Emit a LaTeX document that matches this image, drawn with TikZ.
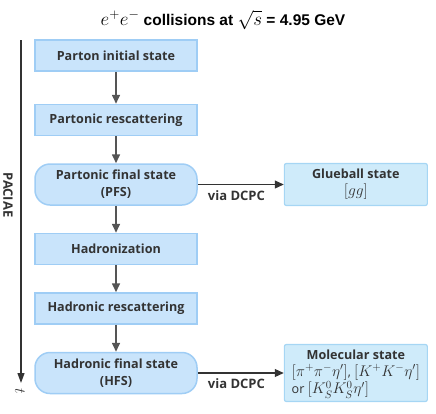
\RequirePackage{fix-cm}
\documentclass[tikz,border=0pt]{standalone}
\usepackage{amsmath,amssymb}
\usepackage{fontspec}
\setsansfont{Open Sans}
\newfontfamily\titlefont{Liberation Sans}
\usetikzlibrary{arrows.meta,positioning,calc}

\definecolor{boxfill}{HTML}{C9E4FB}
\definecolor{boxline}{HTML}{9FCDF5}
\definecolor{outfill}{HTML}{CFEBFA}
\definecolor{outline}{HTML}{A6D6F4}
\definecolor{txtgray}{HTML}{333333}
\definecolor{arrgray}{HTML}{555555}

% math set a little larger than the sans text around it
\newcommand{\bigmath}[2][15.5]{{\fontsize{#1}{18}\selectfont$#2$}}

\begin{document}
\begin{tikzpicture}[
    font=\sffamily\bfseries\fontsize{12.6}{17}\selectfont,
    text=txtgray,
    stage/.style={draw=boxline, fill=boxfill, line width=1.5pt, rectangle, minimum width=162pt, minimum height=31pt, inner sep=2pt, align=center},
    state/.style={stage, rounded corners=15pt, minimum height=41pt},
    product/.style={draw=outline, fill=outfill, line width=1.2pt, rectangle, rounded corners=2pt, minimum width=143pt, inner sep=1pt, align=center},
    flow/.style={draw=arrgray, line width=1.6pt, -{Triangle[length=9pt,width=8pt]}},
    link/.style={draw=txtgray, line width=1.2pt, -{Triangle[length=9pt,width=8pt]}},
    edgelabel/.style={below=2pt, pos=0.45, font=\sffamily\bfseries\fontsize{13}{14}\selectfont}
]
\useasboundingbox (0pt,0pt) rectangle (436pt,-413pt);

% title
\node[font=\titlefont\bfseries\fontsize{15.5}{17}\selectfont, text=black, inner sep=1pt] (title) at (223pt,-20pt) {\bigmath[19]{e^{+}e^{-}} collisions at \bigmath[19]{\sqrt{s}} = 4.95 GeV};

% PACIAE stages
\node[stage] (init) at (116pt,-55.5pt) {Parton initial state};
\node[stage, below=32pt of init] (pscat) {Partonic rescattering};
\node[state, below=27pt of pscat] (pfs) {Partonic final state\\(PFS)};
\node[stage, below=27pt of pfs] (hadr) {Hadronization};
\node[stage, below=27pt of hadr] (hscat) {Hadronic rescattering};
\node[state, below=27pt of hscat] (hfs) {Hadronic final state\\(HFS)};

% exotic states
\node[product, minimum height=42pt, right=86pt of pfs] (glue) {Glueball state\\\mdseries\bigmath{[gg]}};
\node[product, minimum height=57pt, right=86pt of hfs] (mol) {\begin{tabular}{@{}l@{}}\multicolumn{1}{@{}c@{}}{Molecular state}\\
\mdseries\bigmath{[\pi^{+}\pi^{-}\eta']}, \bigmath{[K^{+}K^{-}\eta']}\\
\mdseries or \bigmath{[K_{S}^{0}K_{S}^{0}\eta']}\end{tabular}};

% time axis
\coordinate (tstart) at (21pt,-40pt);
\coordinate (tend) at (21pt,-383pt);
\draw[draw=txtgray, line width=1.2pt, -{Triangle[length=10pt,width=7pt]}] (tstart) -- (tend);
\node[rotate=-90, font=\sffamily\bfseries\fontsize{13}{14}\selectfont] (paciae) at (8pt,-195pt) {PACIAE};
\node[rotate=-90, inner sep=0pt] (tlabel) at (20pt,-391pt) {\bigmath{t}};

\draw[flow] (init) -- (pscat);
\draw[flow] (pscat) -- (pfs);
\draw[flow] (pfs) -- (hadr);
\draw[flow] (hadr) -- (hscat);
\draw[flow] (hscat) -- (hfs);
\draw[link] (pfs) -- node[edgelabel] {via DCPC} (glue);
\draw[link] (hfs) -- node[edgelabel] {via DCPC} (mol);

\end{tikzpicture}
\end{document}
